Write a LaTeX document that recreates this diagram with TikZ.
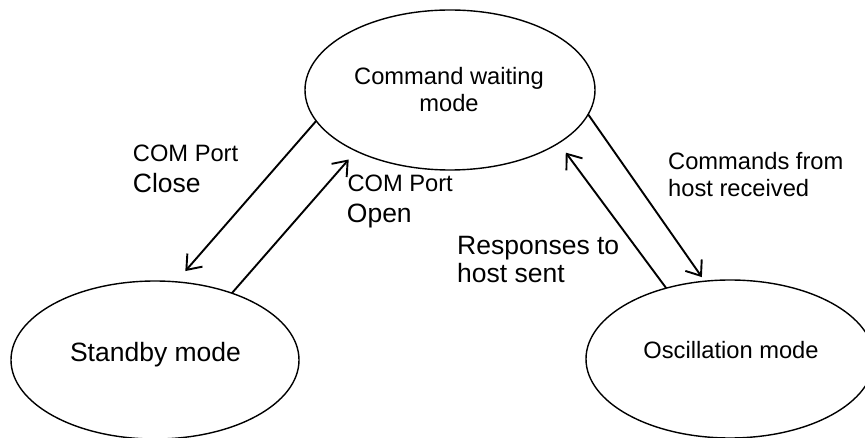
\documentclass[tikz,border=0pt]{standalone}
\usepackage{fontspec}
\setmainfont{Liberation Sans}
\usetikzlibrary{shapes.geometric,arrows.meta}
\begin{document}
\begin{tikzpicture}[x=1pt,y=-1pt,
  state/.style={ellipse, draw, line width=1.4pt, minimum width=290pt, minimum height=160pt, inner sep=0pt, outer sep=0pt},
  tr/.style={line width=1.9pt, -{Straight Barb[length=13pt,width=20pt]}},
  smalltxt/.style={font=\fontsize{23.7}{27}\selectfont, anchor=base west, inner sep=0pt},
  bigtxt/.style={font=\fontsize{26.5}{29}\selectfont, anchor=base west, inner sep=0pt}]
\useasboundingbox (0,0) rectangle (865,438);
\node[state] (cw) at (450,90) {};
\node[state, minimum width=288pt, minimum height=158pt] (sb) at (155,360) {};
\node[state, minimum width=288pt, minimum height=158pt] (osc) at (730,359) {};
\node[smalltxt, anchor=base] (cwt1) at (449,85) {Command waiting};
\node[smalltxt, anchor=base] (cwt2) at (449,111.7) {mode};
\node[bigtxt, anchor=base] (sbt) at (155.5,361) {Standby mode};
\node[smalltxt, anchor=base] (osct) at (731,359) {Oscillation mode};
\node[smalltxt] (l1a) at (132.7,161.7) {COM Port};
\node[bigtxt] (l1b) at (132.7,192.7) {Close};
\node[smalltxt] (l2a) at (347.3,191.7) {COM Port};
\node[bigtxt] (l2b) at (346.7,223) {Open};
\node[smalltxt] (l3a) at (668,170) {Commands from};
\node[smalltxt] (l3b) at (668,196.7) {host received};
\node[bigtxt] (l4a) at (457,255) {Responses to};
\node[bigtxt] (l4b) at (457,283) {host sent};
\draw[tr, shorten >=14.3pt] (cw.193.7) -- (sb.75.1);
\draw[tr, shorten >=11.3pt] (sb.41) -- (cw.213.6);
\draw[tr, shorten >=5pt] (cw.350.9) -- (osc.108.6);
\draw[tr, shorten >=12pt] (osc.132.9) -- (cw.334.7);
\end{tikzpicture}
\end{document}
